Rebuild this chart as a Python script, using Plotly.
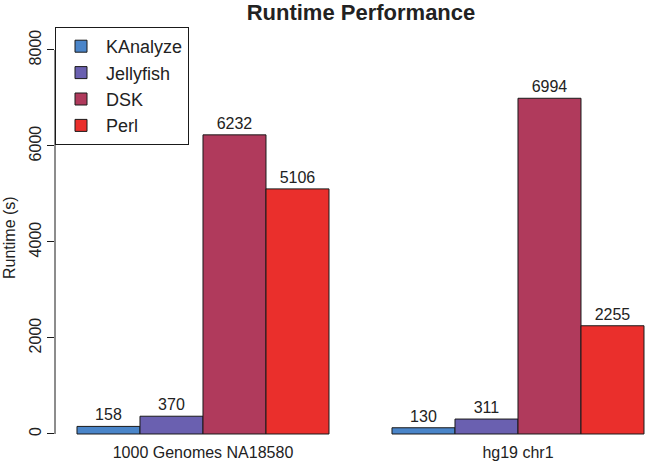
import plotly.graph_objects as go

# ---- data ----
DATASETS = ["1000 Genomes NA18580", "hg19 chr1"]
TOOLS = ["KAnalyze", "Jellyfish", "DSK", "Perl"]
KANALYZE = [158, 130]
JELLYFISH = [370, 311]
DSK = [6232, 6994]
PERL = [5106, 2255]
Y_TICKS = [0, 2000, 4000, 6000, 8000]
Y_TICK_LABELS = ["0", "2000", "4000", "6000", "8000"]

SERIES = [KANALYZE, JELLYFISH, DSK, PERL]
COLORS = ["#4a85c9", "#6a60b0", "#b03a5c", "#ea2f2c"]

FONT = "Liberation Sans, Arial, Helvetica, sans-serif"
TXT = "#222222"

fig = go.Figure()
for name, vals, col in zip(TOOLS, SERIES, COLORS):
    fig.add_trace(go.Bar(
        name=name, x=DATASETS, y=vals,
        marker=dict(color=col, line=dict(color="#1a1a1a", width=1)),
        text=[str(v) for v in vals], textposition="outside",
        textfont=dict(size=16, color=TXT, family=FONT),
        cliponaxis=False,
    ))

# y axis line spanning only first..last tick (R style)
fig.add_shape(type="line", xref="paper", yref="y", x0=0, x1=0,
              y0=Y_TICKS[0], y1=Y_TICKS[-1], line=dict(color="#1a1a1a", width=1))

fig.update_layout(
    width=645, height=462,
    margin=dict(l=55, r=0, t=27, b=21),
    paper_bgcolor="white", plot_bgcolor="white",
    barmode="group", bargap=0.2, bargroupgap=0,
    font=dict(family=FONT, color=TXT, size=16),
    title=dict(text="<b>Runtime Performance</b>", xref="paper", x=0.5186, xanchor="center",
               y=1 - 12 / 462, yanchor="middle", font=dict(size=22, color=TXT, family=FONT)),
    xaxis=dict(range=[-0.4698, 1.4032], showline=False, showgrid=False, zeroline=False,
               ticks="", tickfont=dict(size=16, color=TXT)),
    yaxis=dict(range=[-146, 8479], showline=False, showgrid=False, zeroline=False,
               tickvals=Y_TICKS, ticktext=Y_TICK_LABELS, ticks="outside", ticklen=7,
               tickcolor="#1a1a1a", tickangle=-90, tickfont=dict(size=16, color=TXT)),
    legend=dict(x=0, y=1, xanchor="left", yanchor="top", bordercolor="#1a1a1a",
                borderwidth=1, bgcolor="white", font=dict(size=18, color=TXT),
                tracegroupgap=0, itemwidth=40),
    showlegend=True,
)

fig.add_annotation(text="Runtime (s)", xref="paper", yref="paper",
                   x=(9 - 55) / 590, y=(441 - 238) / 414, textangle=-90,
                   showarrow=False, xanchor="center", yanchor="middle",
                   font=dict(size=16, color=TXT, family=FONT))

fig.write_html("out.html", config={"displayModeBar": False},
               post_script="document.body.style.margin='0px';")
